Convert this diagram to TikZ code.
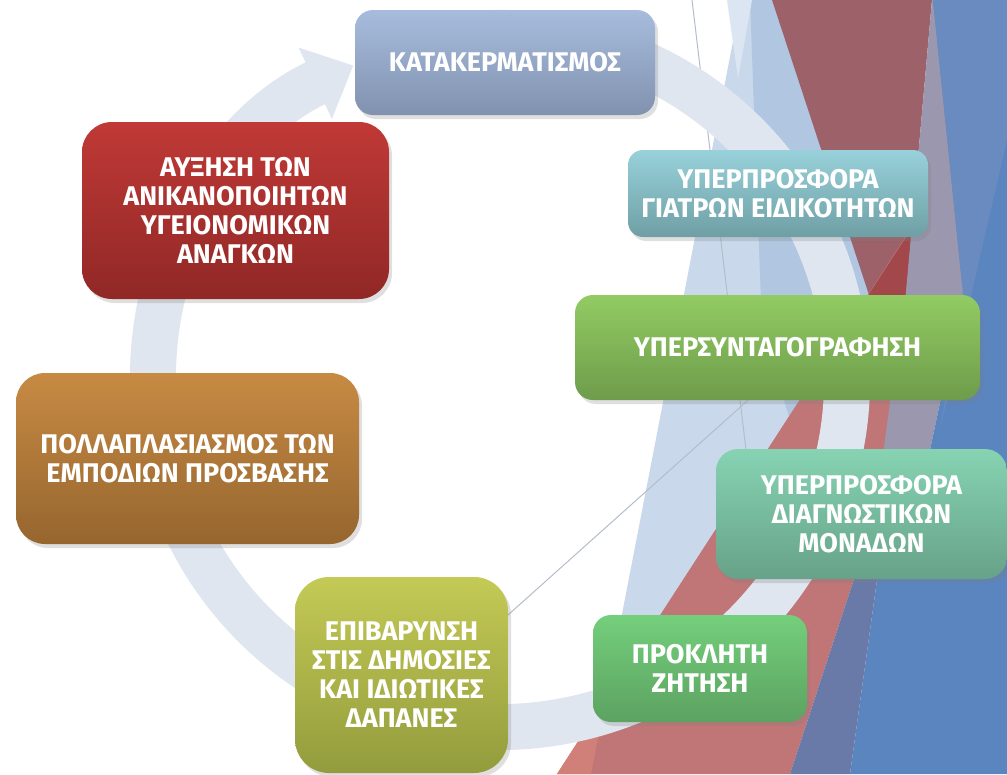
\documentclass[tikz,border=0pt]{standalone}
\usepackage{fontspec}
\setmainfont{Fira Sans}
\usetikzlibrary{arrows.meta,shadows}

\definecolor{ringc}{HTML}{E0E6EF}
\definecolor{paleW}{HTML}{DCE6F2}
\definecolor{lblue}{HTML}{C9D9EB}
\definecolor{mblue}{HTML}{B1C6E1}
\definecolor{redbr}{HTML}{9C6169}
\definecolor{redbd}{HTML}{C07576}
\definecolor{salmon}{HTML}{D08079}
\definecolor{darkred}{HTML}{A2484B}
\definecolor{lav}{HTML}{9A97AE}
\definecolor{purp}{HTML}{6A7AA8}
\definecolor{blueA}{HTML}{5A85BE}
\definecolor{blueB}{HTML}{6A8BBF}
\definecolor{linec}{HTML}{B4BDC9}
% box colours, top and bottom
\definecolor{kat1}{HTML}{A7BCDD}\definecolor{kat2}{HTML}{8192AF}
\definecolor{gia1}{HTML}{98D1DA}\definecolor{gia2}{HTML}{6F9FA5}
\definecolor{syn1}{HTML}{92CB63}\definecolor{syn2}{HTML}{6E9C4B}
\definecolor{dia1}{HTML}{86D3B2}\definecolor{dia2}{HTML}{67A289}
\definecolor{pro1}{HTML}{74CF7C}\definecolor{pro2}{HTML}{5CA261}
\definecolor{epi1}{HTML}{C4CA55}\definecolor{epi2}{HTML}{939C3D}
\definecolor{pol1}{HTML}{C78A43}\definecolor{pol2}{HTML}{96662F}
\definecolor{auk1}{HTML}{C03936}\definecolor{auk2}{HTML}{902826}

\begin{document}
\begin{tikzpicture}[x=1pt,y=-1pt,
  box/.style={rounded corners=#1, text=white, align=center, inner sep=0pt,
    font=\bfseries\fontsize{27}{29}\selectfont,
    drop shadow={opacity=0.25, shadow xshift=3pt, shadow yshift=-4pt}},
  hairline/.style={draw=linec, line width=1pt}]
\useasboundingbox (0,0) rectangle (1007,774);
\fill[white] (0,0) rectangle (1007,774);
% background stripes
\fill[lblue] (741,0) -- (775,0) -- (885,330) -- (591,774) -- cycle;
\fill[mblue] (750,0) -- (772,0) -- (885,330) -- (790,420) -- (762,330) -- cycle;
\fill[paleW] (727,0) -- (752,0) -- (738,78) -- cycle;
\fill[redbr] (772,0) -- (932,0) -- (898,383) -- cycle;
\fill[redbd] (557,774) -- (790,774) -- (875,515) -- (895,380) -- (915,222) -- cycle;
\fill[salmon] (557,774) -- (591,774) -- (605.5,699) -- cycle;
\fill[darkred] (912,228) -- (898,383) -- (869,294) -- cycle;
\fill[lav] (932,0) -- (940,0) -- (963,293) -- (930,450) -- (905,515) -- (875,515)
  -- (890,402) -- (906,292) -- cycle;
\fill[blueA] (933,0) -- (1007,0) -- (1007,774) -- (850,774) -- (877,580) -- (930,450)
  -- (963,293) -- cycle;
\fill[blueB] (933,0) -- (1007,0) -- (1007,140) -- (940,430) -- (963,293) -- cycle;
\fill[purp] (790,774) -- (850,774) -- (877,580) -- (905,515) -- (875,515) -- cycle;
\draw[hairline] (692,0) -- (746,450);
\draw[hairline] (765,385) -- (480,640);
% cycle arrow
\draw[ringc, line width=46pt, -{Triangle[width=76pt,length=42pt]}]
  (500,380) ++(260:347) arc[start angle=260, end angle=605, radius=347];
% boxes
\node[box=18pt, top color=kat1, bottom color=kat2, minimum width=300pt, minimum height=105pt]
  (kat) at (505,62.5) {ΚΑΤΑΚΕΡΜΑΤΙΣΜΟΣ};
\node[box=15pt, top color=gia1, bottom color=gia2, minimum width=300pt, minimum height=87pt]
  (gia) at (778,193.5) {ΥΠΕΡΠΡΟΣΦΟΡΑ\\ΓΙΑΤΡΩΝ ΕΙΔΙΚΟΤΗΤΩΝ};
\node[box=18pt, top color=syn1, bottom color=syn2, minimum width=405pt, minimum height=105pt]
  (syn) at (777.5,347.5) {ΥΠΕΡΣΥΝΤΑΓΟΓΡΑΦΗΣΗ};
\node[box=22pt, top color=dia1, bottom color=dia2, minimum width=291pt, minimum height=130pt]
  (dia) at (861.5,514) {ΥΠΕΡΠΡΟΣΦΟΡΑ\\ΔΙΑΓΝΩΣΤΙΚΩΝ\\ΜΟΝΑΔΩΝ};
\node[box=18pt, top color=pro1, bottom color=pro2, minimum width=214pt, minimum height=107pt]
  (pro) at (700,668.5) {ΠΡΟΚΛΗΤΗ\\ΖΗΤΗΣΗ};
\node[box=34pt, top color=epi1, bottom color=epi2, minimum width=213pt, minimum height=196pt]
  (epi) at (401.5,675) {ΕΠΙΒΑΡΥΝΣΗ\\ΣΤΙΣ ΔΗΜΟΣΙΕΣ\\ΚΑΙ ΙΔΙΩΤΙΚΕΣ\\ΔΑΠΑΝΕΣ};
\node[box=29pt, top color=pol1, bottom color=pol2, minimum width=343pt, minimum height=171pt]
  (pol) at (187.5,458.5) {ΠΟΛΛΑΠΛΑΣΙΑΣΜΟΣ ΤΩΝ\\ΕΜΠΟΔΙΩΝ ΠΡΟΣΒΑΣΗΣ};
\node[box=30pt, top color=auk1, bottom color=auk2, minimum width=307pt, minimum height=177pt]
  (auk) at (235.5,210.5) {ΑΥΞΗΣΗ ΤΩΝ\\ΑΝΙΚΑΝΟΠΟΙΗΤΩΝ\\ΥΓΕΙΟΝΟΜΙΚΩΝ\\ΑΝΑΓΚΩΝ};
\end{tikzpicture}
\end{document}
